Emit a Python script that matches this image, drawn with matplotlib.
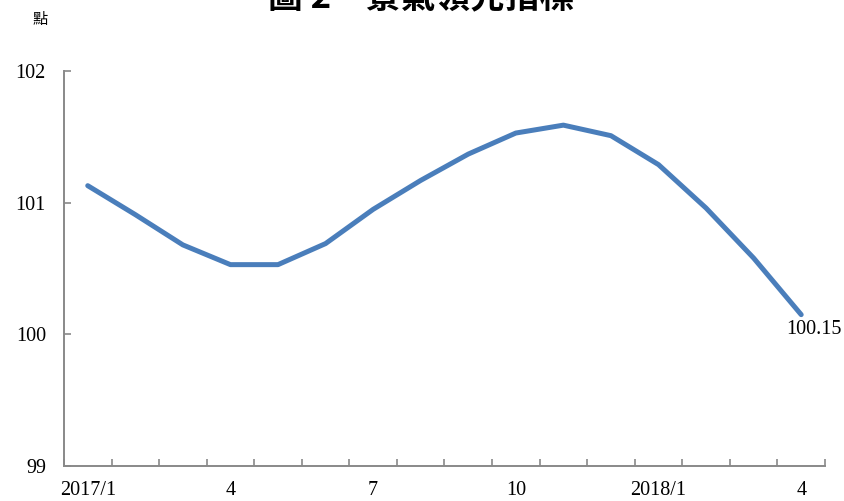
import matplotlib
matplotlib.use("Agg")
import matplotlib.pyplot as plt

# 景氣領先指標, 2017/1 - 2018/4
months = ["2017/1", "2", "3", "4", "5", "6", "7", "8", "9", "10", "11", "12",
          "2018/1", "2", "3", "4"]
leading = [101.13, 100.91, 100.68, 100.53, 100.53, 100.69, 100.95, 101.17,
           101.37, 101.53, 101.59, 101.51, 101.29, 100.96, 100.58, 100.15]
shown_labels = [0, 3, 6, 9, 12, 15]
yticks = [99, 100, 101, 102]

cjk = ["Noto Sans CJK TC", "DejaVu Sans"]
serif = "Liberation Serif"
axis_gray = "#898989"

fig = plt.figure(figsize=(8.45, 5.01), dpi=100)
ax = fig.add_axes([0.0757, 0.0699, 0.9006, 0.788])

x = list(range(len(months)))
ax.plot(x, leading, color="#4a7ebb", lw=3.6, solid_capstyle="round",
        solid_joinstyle="round")

ax.annotate(f"{leading[-1]:.2f}", (x[-1], leading[-1]), xytext=(9, -11),
            textcoords="offset points", ha="center", va="center",
            fontsize=14.5, family=serif)

ax.set_xlim(-0.5, len(months) - 0.5)
ax.set_ylim(99, 102)
ax.set_yticks(yticks)
ax.set_yticklabels([str(v) for v in yticks], family=serif, fontsize=14.5)

ax.set_xticks(shown_labels)
ax.set_xticklabels([months[i] for i in shown_labels], family=serif, fontsize=14.5)
ax.set_xticks([i - 0.5 for i in range(len(months) + 1)], minor=True)
ax.tick_params(axis="x", which="major", length=0, pad=11)
ax.tick_params(axis="x", which="minor", direction="in", length=5,
               color=axis_gray, width=1.2)
ax.tick_params(axis="y", direction="in", length=5, color=axis_gray,
               width=1.2, pad=13)

for side in ("top", "right"):
    ax.spines[side].set_visible(False)
for side in ("left", "bottom"):
    ax.spines[side].set_color(axis_gray)
    ax.spines[side].set_linewidth(1.4)

fig.text(0.048, 0.961, "點", family=cjk, fontsize=11, ha="center", va="center")
fig.text(0.498, 1.004, "圖 2　景氣領先指標", family=cjk, fontsize=25,
         fontweight="bold", ha="center", va="center")

fig.savefig("out.png", dpi=100)
